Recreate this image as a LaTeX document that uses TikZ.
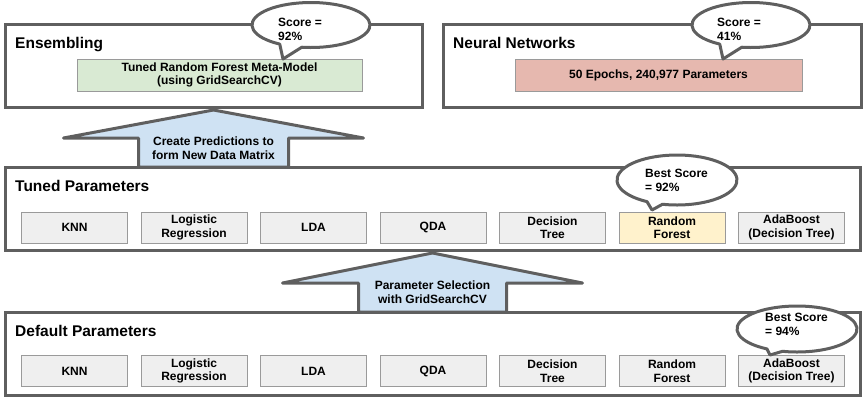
\documentclass[tikz,border=0pt]{standalone}
\usepackage{fontspec}
\setmainfont{Liberation Sans}
\usetikzlibrary{calc}
\definecolor{edge}{HTML}{5F5F5F}
\definecolor{itemfill}{HTML}{EFEFEF}
\definecolor{itemedge}{HTML}{9A9A9A}
\definecolor{greenfill}{HTML}{D9EAD3}
\definecolor{redfill}{HTML}{E6B8AF}
\definecolor{yellowfill}{HTML}{FFF2CC}
\definecolor{bluefill}{HTML}{CFE2F3}
\begin{document}
\begin{tikzpicture}[x=1pt,y=-1pt,
  panel/.style={draw=edge, line width=3pt, fill=white, inner sep=0pt, outer sep=0pt},
  paneltitle/.style={anchor=base west, inner sep=0pt, font=\fontsize{15.5}{18}\selectfont\bfseries},
  itembox/.style={draw=itemedge, line width=0.8pt, fill=itemfill, minimum width=106pt, minimum height=31pt, inner sep=0pt, align=center, font=\fontsize{12}{13.5}\selectfont\bfseries},
  blockarrow/.style={draw=edge, line width=3pt, fill=bluefill, line join=round},
  bubble/.style={draw=edge, line width=3pt, fill=white, line join=round},
  smalltext/.style={inner sep=0pt, font=\fontsize{12}{13.5}\selectfont\bfseries},
]
\useasboundingbox (0,0) rectangle (865,400);

% panels
\node[panel, minimum width=417pt, minimum height=83pt] (ens) at (213.5,65.5) {};
\node[panel, minimum width=418pt, minimum height=83pt] (nn) at (652,65.5) {};
\node[panel, minimum width=855pt, minimum height=83pt] (tuned) at (432.5,208.5) {};
\node[panel, minimum width=855pt, minimum height=83pt] (default) at (432.5,353.5) {};

% titles
\node[paneltitle] (enstitle) at (15,48) {Ensembling};
\node[paneltitle] (nntitle) at (453,48) {Neural Networks};
\node[paneltitle] (tunedtitle) at (15,191) {Tuned Parameters};
\node[paneltitle] (defaulttitle) at (15,336) {Default Parameters};

% top boxes
\node[itembox, fill=greenfill, minimum width=285pt, minimum height=32pt] (meta) at (219.5,75) {Tuned Random Forest Meta-Model\\(using GridSearchCV)};
\node[itembox, fill=redfill, minimum width=287pt, minimum height=32pt] (nnbox) at (658.5,75) {50 Epochs, 240,977 Parameters};

% tuned row
\node[itembox] (t0) at (74.5,227.5) {KNN};
\node[itembox] (t1) at (194,227.5) {Logistic\\Regression};
\node[itembox] (t2) at (313.5,227.5) {LDA};
\node[itembox] (t3) at (433,227.5) {QDA};
\node[itembox] (t4) at (552.5,227.5) {Decision\\Tree};
\node[itembox, fill=yellowfill] (t5) at (672,227.5) {Random\\Forest};
\node[itembox] (t6) at (791.5,227.5) {AdaBoost\\(Decision Tree)};

% default row
\node[itembox] (d0) at (74.5,371) {KNN};
\node[itembox] (d1) at (194,371) {Logistic\\Regression};
\node[itembox] (d2) at (313.5,371) {LDA};
\node[itembox] (d3) at (433,371) {QDA};
\node[itembox] (d4) at (552.5,371) {Decision\\Tree};
\node[itembox] (d5) at (672,371) {Random\\Forest};
\node[itembox] (d6) at (791.5,371) {AdaBoost\\(Decision Tree)};

% block arrow 1
\coordinate (a1tip) at ($(ens.south)+(0,3)$);
\coordinate (a1base) at (ens.south |- tuned.north);
\draw[blockarrow] (a1tip) -- ($(a1tip)+(150,28)$) -- ($(a1tip)+(75,28)$) -- ($(a1base)+(75,0)$)
  -- ($(a1base)+(-75,0)$) -- ($(a1tip)+(-75,28)$) -- ($(a1tip)+(-150,28)$) -- cycle;
\node[smalltext, align=center] (a1text) at ($(a1tip)+(0,38)$) {Create Predictions to\\form New Data Matrix};

% block arrow 2
\coordinate (a2tip) at ($(tuned.south)+(0,3)$);
\coordinate (a2base) at (tuned.south |- default.north);
\draw[blockarrow] (a2tip) -- ($(a2tip)+(150,30)$) -- ($(a2tip)+(74,30)$) -- ($(a2base)+(74,0)$)
  -- ($(a2base)+(-74,0)$) -- ($(a2tip)+(-74,30)$) -- ($(a2tip)+(-150,30)$) -- cycle;
\node[smalltext, align=center] (a2text) at ($(a2tip)+(0,39)$) {Parameter Selection\\with GridSearchCV};

% speech bubbles
\draw[bubble] ($(311,25)+(122:59 and 22.5)$) arc[start angle=122, end angle=459, x radius=59, y radius=22.5] -- (283,59) -- cycle;
\node[smalltext, align=left, anchor=base west] (b1text) at (278,40) {Score =\\92\%};

\draw[bubble] ($(751,25)+(122:59 and 22.5)$) arc[start angle=122, end angle=459, x radius=59, y radius=22.5] -- (723,59) -- cycle;
\node[smalltext, align=left, anchor=base west] (b2text) at (717,40) {Score =\\41\%};

\draw[bubble] ($(677,180)+(120:60 and 25)$) arc[start angle=120, end angle=464, x radius=60, y radius=25] -- (652,210) -- cycle;
\node[smalltext, align=left, anchor=base west] (b3text) at (645,191) {Best Score\\= 92\%};

\draw[bubble] ($(797,329)+(120:60 and 23)$) arc[start angle=120, end angle=464, x radius=60, y radius=23] -- (770,355) -- cycle;
\node[smalltext, align=left, anchor=base west] (b4text) at (765,335) {Best Score\\= 94\%};
\end{tikzpicture}
\end{document}
